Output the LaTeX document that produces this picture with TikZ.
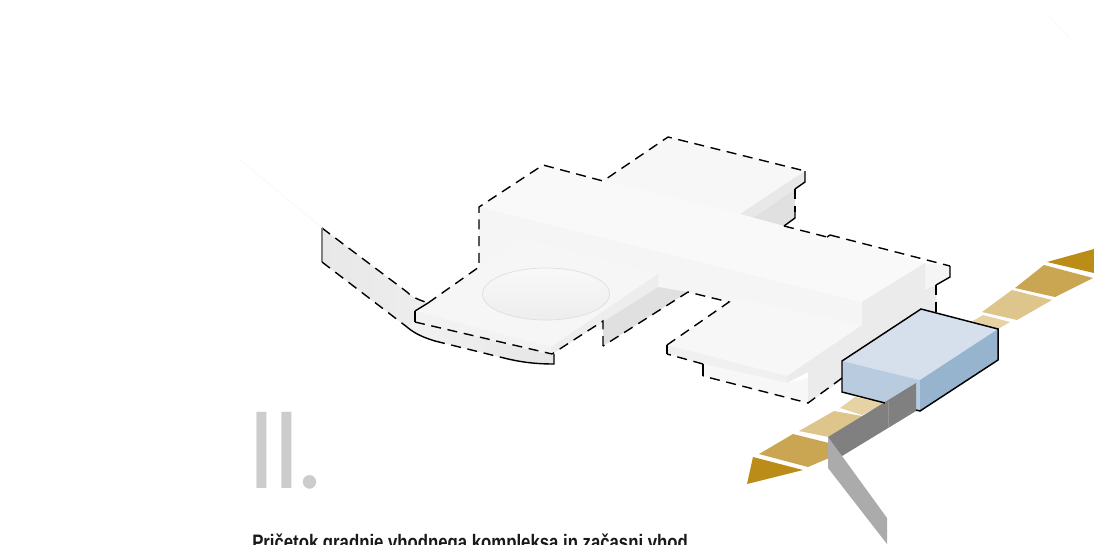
\documentclass[tikz,border=0pt]{standalone}
\usepackage{fontspec}
\setmainfont{Liberation Sans}
\newfontfamily\headfont[FakeStretch=0.80]{Liberation Sans}
\newfontfamily\numfont{Poppins}
\definecolor{tipgold}{HTML}{BC8C18}
\definecolor{midgold}{HTML}{CAA552}
\definecolor{palegold}{HTML}{DEC58B}
\definecolor{palestgold}{HTML}{E6D2A2}
\definecolor{blocktop}{RGB}{213,224,236}
\definecolor{blockleft}{RGB}{184,203,223}
\definecolor{blockright}{RGB}{151,180,207}
\tikzset{
  outline/.style={black,line width=1.05pt,dash pattern=on 7.5pt off 5pt,line join=miter},
  solidline/.style={black,line width=1.05pt,line join=miter},
  blockline/.style={black,line width=1.1pt,line join=miter},
  face/.style={fill=#1,draw=none},
}
\begin{document}
\begin{tikzpicture}[x=0.75pt,y=-0.75pt]
\clip (0,0) rectangle (1094,544);
\fill[white] (0,0) rectangle (1094,544);
% faint traces
\draw[black!3,line width=0.5pt] (240,160) -- (322,228);
\draw[black!3,line width=0.5pt] (1048,15) -- (1070,38);
% left strip
\shade[left color=black!9,right color=black!7] (322,228) -- (407,292) .. controls (413,298) and (420,300) .. (428,303) -- (415,311) -- (415,322) -- (407,327) -- (322,262) -- cycle;
% lower apron under left slab
\shade[left color=black!5,right color=black!10] (407,327) .. controls (415,334) and (425,338) .. (435,341) -- (504,358) .. controls (520,362) and (535,364) .. (554,364) -- (554,354) -- (415,318) -- cycle;
% main floor plate
\fill[black!4] (479,207) -- (479,267) -- (428,303) -- (600,330) -- (688,292) -- (729,302) -- (862,330) -- (936,285) -- (925,263) -- (862,302) -- cycle;
% upper wing
\path[face=black!3] (603,181) -- (668,137) -- (805,171) -- (740,214) -- cycle;
\path[face=black!9] (740,214) -- (805,171) -- (805,182) -- (795,189) -- (753,218) -- cycle;
\path[face=black!12] (753,218) -- (795,189) -- (795,218) -- (784,226) -- cycle;
% band top
\path[face=black!2.5] (479,207) -- (543,165) -- (603,181) -- (740,214) -- (784,226) -- (827,237) -- (830,235) -- (925,263) -- (862,302) -- cycle;
% right end of band
\path[face=black!4] (925,263) -- (950,266) -- (950,277) -- (936,285) -- (925,290) -- cycle;
% dark side under left slab
\path[face=black!12] (658,287) -- (688,292) -- (603,346) -- (603,321) -- cycle;
% left slab
\path[face=black!3.5] (415,311) -- (522,238) -- (658,274) -- (551,347) -- cycle;
\path[face=black!5] (415,311) -- (551,347) -- (551,355) -- (415,322) -- cycle;
\path[face=black!7] (551,347) -- (658,274) -- (658,287) -- (551,355) -- cycle;
\shade[top color=black!2.5,bottom color=black!7,draw=black!13,line width=0.5pt] (546,294) ellipse [x radius=63.5,y radius=26];
% lower wing
\path[face=black!3] (667,345) -- (729,302) -- (735,298) -- (862,325) -- (787,376) -- cycle;
\path[face=black!6] (667,345) -- (787,376) -- (787,383) -- (703,364) -- (667,354) -- cycle;
\path[face=black!3] (703,364) -- (787,383) -- (808,378) -- (808,403) -- (703,376) -- cycle;
\path[face=black!8] (925,263) -- (862,302) -- (862,325) -- (787,376) -- (787,383) -- (808,372) -- (808,403) -- (845,378) -- (936,325) -- (936,285) -- (925,290) -- cycle;
% road
\path[face=tipgold] (747,484) -- (753,457) -- (803,470) -- cycle;
\path[face=midgold] (759,454) -- (793,434) -- (829,443) -- (829,458) -- (808,467) -- cycle;
\path[face=palegold] (799,431) -- (834,411) -- (862,416) -- (829,437) -- cycle;
\path[face=palestgold] (840,408) -- (855,397) -- (885,403) -- (862,415) -- cycle;
\path[face=palestgold] (971,322) -- (983,315) -- (1010,322) -- (998,329) -- cycle;
\path[face=palegold] (982,312) -- (1012,290) -- (1052,300) -- (1017,320) -- cycle;
\path[face=midgold] (1015,288) -- (1044,265) -- (1093,278) -- (1055,297) -- cycle;
\path[face=tipgold] (1047,262) -- (1094,249) -- (1094,273) -- cycle;
% block
\path[face=blocktop] (921,309) -- (998,329) -- (920,380) -- (842,361) -- cycle;
\path[face=blockleft] (842,361) -- (920,380) -- (920,411) -- (842,392) -- cycle;
\path[face=blockright] (920,380) -- (998,329) -- (998,360) -- (920,411) -- cycle;
% grey ribbon
\path[face=black!33] (828,437) -- (842,456) -- (887,518) -- (887,544) -- (828,468) -- cycle;
\path[face=black!50] (828,437) -- (916,383) -- (916,411) -- (842,456) -- cycle;
\draw[black!42,line width=0.6pt] (888,401) -- (888,428);
% outline
\draw[outline] (322,228) -- (407,292) .. controls (413,298) and (420,300) .. (428,303);
\draw[black!50,line width=1pt] (322,228) -- (322,262);
\draw[outline] (322,262) -- (407,327);
\draw[solidline] (407,327) .. controls (415,334) and (425,338) .. (435,341);
\draw[outline] (435,341) -- (504,358);
\draw[solidline] (504,358) .. controls (520,362) and (535,364) .. (554,364) -- (554,354);
\draw[solidline] (415,311) -- (415,322);
\draw[solidline] (415,311) -- (428,303);
\draw[outline] (415,322) -- (552,354);
\draw[outline] (428,303) -- (479,267) -- (479,207) -- (543,165) -- (603,181) -- (668,137) -- (805,171);
\draw[solidline] (805,171) -- (805,182) -- (795,189);
\draw[outline] (795,189) -- (795,212);
\draw[solidline] (795,212) -- (795,218) -- (784,226);
\draw[outline] (784,226) -- (827,237);
\draw[solidline] (827,237) -- (830,235);
\draw[outline] (830,235) -- (950,266);
\draw[solidline] (950,266) -- (950,277) -- (936,285);
\draw[outline] (936,285) -- (936,312);
\draw[outline] (842,378) -- (808,403) -- (703,376);
\draw[solidline] (703,376) -- (703,364);
\draw[outline] (703,364) -- (667,354);
\draw[solidline] (667,354) -- (667,345);
\draw[outline] (667,345) -- (729,302) -- (688,292) -- (603,346);
\draw[outline] (603,346) -- (603,321) -- (552,354);
% block lines
\draw[blockline] (885,403) -- (842,392) -- (842,361) -- (921,309) -- (998,329) -- (998,360) -- (920,411) -- (916,410);
% texts
\node[anchor=base west,inner sep=0pt,text=black!20,font=\numfont\fontsize{82pt}{82pt}\selectfont] (numeral) at (248,488) {I\kern-1.5pt I\kern-1pt.};
\node[anchor=base west,inner sep=0pt,text=black!90,font=\headfont\bfseries\fontsize{15.7pt}{18pt}\selectfont] (caption) at (252,549) {Pričetok gradnje vhodnega kompleksa in začasni vhod};
\end{tikzpicture}
\end{document}
